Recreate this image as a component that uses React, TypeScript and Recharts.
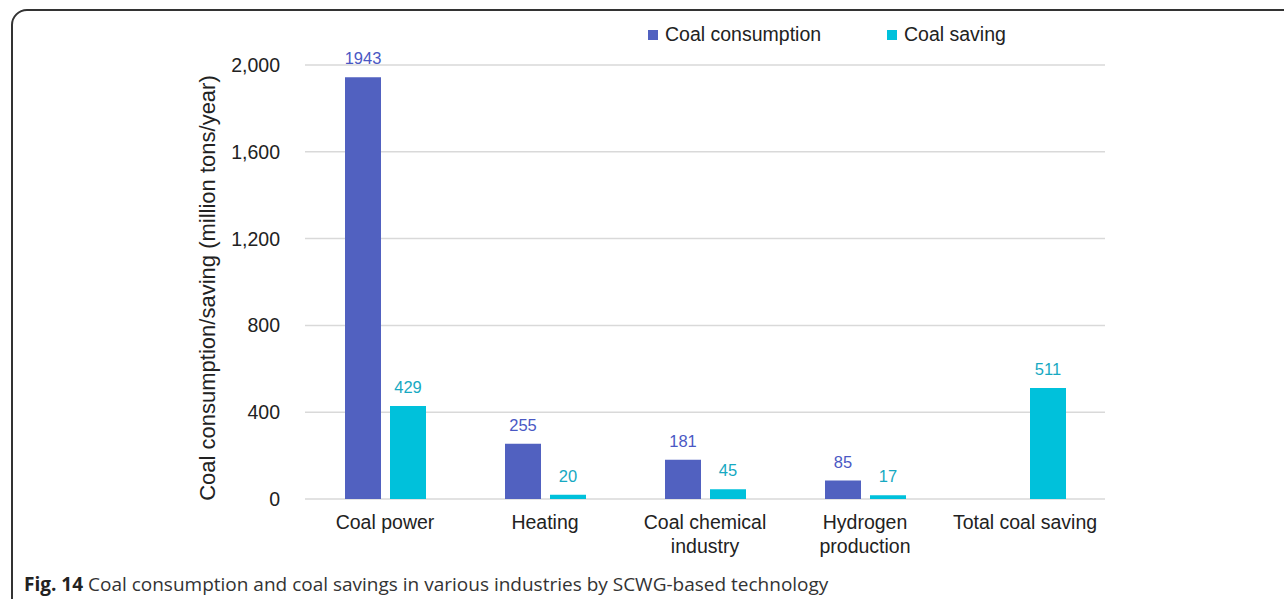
import { Bar, BarChart, CartesianGrid, LabelList, Legend, XAxis, YAxis } from 'recharts';

const categories = ['Coal power', 'Heating', 'Coal chemical\nindustry', 'Hydrogen\nproduction', 'Total coal saving'];
const consumption: (number | null)[] = [1943, 255, 181, 85, null];
const saving = [429, 20, 45, 17, 511];
const yTicks = [0, 400, 800, 1200, 1600, 2000];

const BLUE = '#5161c0';
const CYAN = '#00c1db';
const FONT = '"Liberation Sans", Arial, sans-serif';

const data = categories.map((name, i) => ({
  name,
  consumption: consumption[i],
  saving: saving[i],
}));

// multi-line category ticks, split on \n
function CategoryTick({ x, y, payload }: any) {
  const lines = String(payload.value).split('\n');
  return (
    <text x={x} y={y} textAnchor="middle" fontFamily={FONT} fontSize={19.5} fill="#222">
      {lines.map((line, i) => (
        <tspan key={i} x={x} dy={i === 0 ? 22 : 24}>
          {line}
        </tspan>
      ))}
    </text>
  );
}

function YTitle() {
  return (
    <text
      x={207}
      y={288}
      transform="rotate(-90 207 288)"
      textAnchor="middle"
      dominantBaseline="central"
      fontFamily={FONT}
      fontSize={22}
      fill="#222"
    >
      Coal consumption/saving (million tons/year)
    </text>
  );
}

function LegendBox() {
  const items = [
    { label: 'Coal consumption', color: BLUE, width: 239 },
    { label: 'Coal saving', color: CYAN, width: 140 },
  ];
  return (
    <div style={{ display: 'flex', alignItems: 'center', fontFamily: FONT, fontSize: 19.5, color: '#222' }}>
      {items.map((it) => (
        <div key={it.label} style={{ display: 'flex', alignItems: 'center', width: it.width }}>
          <span style={{ display: 'inline-block', width: 10, height: 10, background: it.color, marginRight: 7 }} />
          <span>{it.label}</span>
        </div>
      ))}
    </div>
  );
}

const valueLabel = (v: any) => (v == null || v === 0 ? '' : String(v));

export default function App() {
  return (
    <div
      style={{
        position: 'fixed',
        left: 0,
        top: 0,
        width: 1284,
        height: 599,
        background: '#fff',
        overflow: 'hidden',
      }}
    >
      <div
        style={{
          position: 'absolute',
          left: 11,
          top: 9,
          width: 1320,
          height: 640,
          border: '2px solid #333',
          borderTopLeftRadius: 16,
          boxSizing: 'border-box',
        }}
      />
      <div style={{ position: 'absolute', left: 0, top: 0 }}>
        <BarChart
          width={1284}
          height={599}
          data={data}
          margin={{ top: 65, right: 179, bottom: 70, left: 205 }}
          barGap={9}
          barSize={36}
        >
          <CartesianGrid vertical={false} stroke="#d9d9d9" strokeWidth={1.5} />
          <XAxis
            dataKey="name"
            height={30}
            tick={<CategoryTick />}
            tickLine={false}
            axisLine={false}
            interval={0}
          />
          <YAxis
            width={100}
            domain={[0, 2000]}
            ticks={yTicks}
            tickFormatter={(v: number) => v.toLocaleString('en-US')}
            tick={{ fontFamily: FONT, fontSize: 19.5, fill: '#222' }}
            tickLine={false}
            tickSize={0}
            tickMargin={25}
            axisLine={false}
            label={<YTitle />}
          />
          <Legend
            verticalAlign="middle"
            align="center"
            layout="horizontal"
            wrapperStyle={{ top: 23, left: 648, width: 420, height: 24 }}
            content={<LegendBox />}
          />
          <Bar dataKey="consumption" fill={BLUE} isAnimationActive={false}>
            <LabelList
              dataKey="consumption"
              position="top"
              offset={13}
              formatter={valueLabel}
              style={{ fontFamily: FONT, fontSize: 16.5, fill: '#4a58c4' }}
            />
          </Bar>
          <Bar dataKey="saving" fill={CYAN} isAnimationActive={false}>
            <LabelList
              dataKey="saving"
              position="top"
              offset={13}
              formatter={valueLabel}
              style={{ fontFamily: FONT, fontSize: 16.5, fill: '#16a9c2' }}
            />
          </Bar>
        </BarChart>
      </div>
      <div
        style={{
          position: 'absolute',
          left: 24,
          top: 571,
          fontFamily: '"Open Sans", sans-serif',
          fontSize: 19,
          color: '#333',
          whiteSpace: 'nowrap',
        }}
      >
        <b style={{ color: '#222' }}>Fig. 14</b> Coal consumption and coal savings in various industries by SCWG-based technology
      </div>
    </div>
  );
}
